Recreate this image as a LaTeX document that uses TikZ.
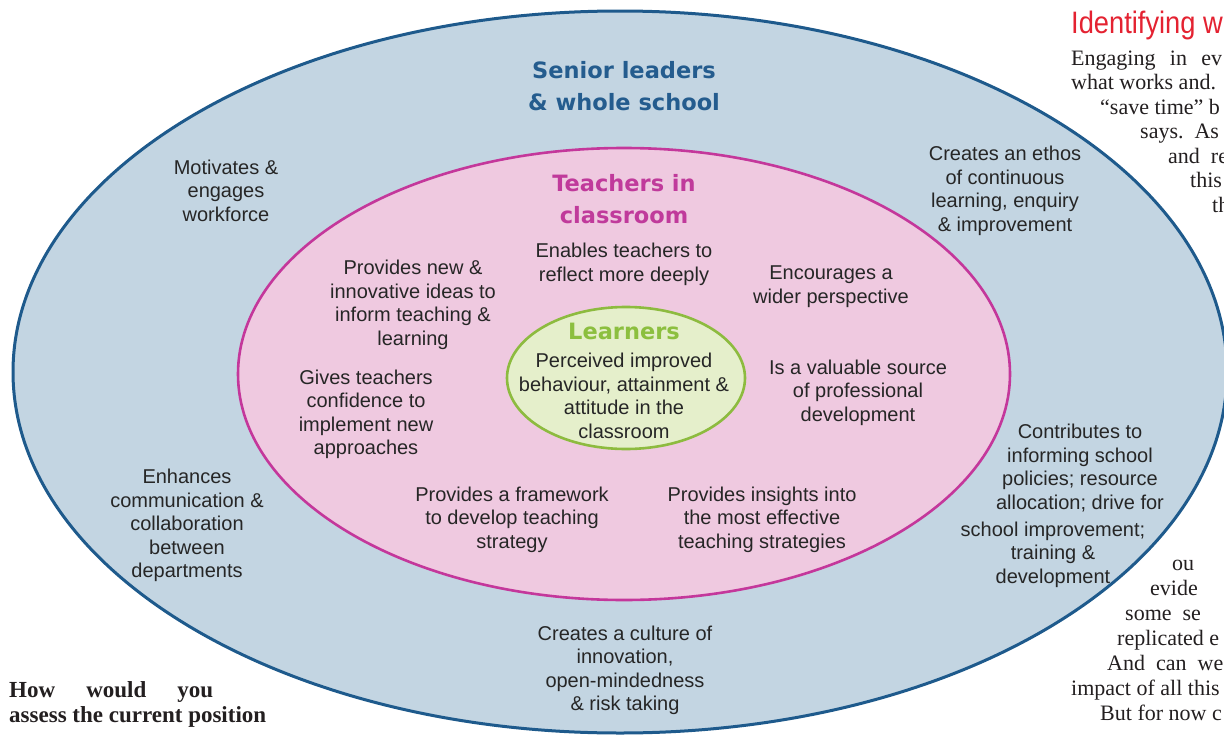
\documentclass[tikz,border=0pt]{standalone}
\usepackage{fontspec}
\setmainfont{Liberation Sans}
\newfontfamily\ringfont{DejaVu Sans}
\newfontfamily\columnfont{Liberation Serif}

\definecolor{schoolfill}{HTML}{C3D5E2}
\definecolor{schoolline}{HTML}{1E5A8C}
\definecolor{schooltitle}{HTML}{245C8E}
\definecolor{classfill}{HTML}{EFC9E0}
\definecolor{classline}{HTML}{C4379B}
\definecolor{classtitle}{HTML}{C03A9B}
\definecolor{learnfill}{HTML}{E5EFCB}
\definecolor{learnline}{HTML}{8DBB3F}
\definecolor{learntitle}{HTML}{8CBF3F}
\definecolor{bodyink}{HTML}{262626}
\definecolor{pageink}{HTML}{231F20}
\definecolor{headred}{HTML}{E42231}

\tikzset{
  body/.style={align=center, inner sep=0pt, text=bodyink,
    font=\fontsize{20}{23.5}\selectfont},
  ringtitle/.style={align=center, inner sep=0pt,
    font=\ringfont\bfseries\fontsize{22.5}{32}\selectfont},
  column/.style={anchor=base west, inner sep=0pt, text=pageink,
    font=\columnfont\fontsize{22}{24.5}\selectfont},
  pullquote/.style={anchor=base west, inner sep=0pt, text=pageink,
    font=\columnfont\bfseries\fontsize{23}{26}\selectfont},
}

\begin{document}
\begin{tikzpicture}[x=1pt, y=-1pt]
  \useasboundingbox (0,0) rectangle (1224,736);
  \fill[white] (0,0) rectangle (1224,736);
  \clip (0,0) rectangle (1224,736);

  % three nested rings
  \filldraw[fill=schoolfill, draw=schoolline, line width=3pt]
    (620,372) ellipse [x radius=607pt, y radius=361pt];
  \filldraw[fill=classfill, draw=classline, line width=2.6pt]
    (624,374) ellipse [x radius=386pt, y radius=226pt];
  \filldraw[fill=learnfill, draw=learnline, line width=2.6pt]
    (626,378) ellipse [x radius=119pt, y radius=71pt];

  % ring titles
  \node[ringtitle, text=schooltitle] (senior) at (624,86)
    {Senior leaders\\\& whole school};
  \node[ringtitle, text=classtitle] (teachers) at (624,199)
    {Teachers in\\classroom};
  \node[ringtitle, text=learntitle] (learners) at (624,331) {Learners};

  % whole-school ring
  \node[body] (motivates) at (226,190.5) {Motivates \&\\engages\\workforce};
  \node[body] (ethos) at (1005,191)
    {Creates an ethos\\of continuous\\learning, enquiry\\\& improvement};
  \node[body] (enhances) at (187,525.5)
    {Enhances\\communication \&\\collaboration\\between\\departments};
  \node[body] (contributes) at (1080,468)
    {Contributes to\\informing school\\policies; resource\\allocation; drive for};
  \node[body] (schoolimp) at (1053,554.5)
    {school improvement;\\training \&\\development};
  \node[body] (culture) at (625,670.5)
    {Creates a culture of\\innovation,\\open-mindedness\\\& risk taking};

  % classroom ring
  \node[body] (enables) at (624,264.5) {Enables teachers to\\reflect more deeply};
  \node[body] (newideas) at (413,305)
    {Provides new \&\\innovative ideas to\\inform teaching \&\\learning};
  \node[body] (wider) at (831,286.5) {Encourages a\\wider perspective};
  \node[body] (confidence) at (366,414.5)
    {Gives teachers\\confidence to\\implement new\\approaches};
  \node[body] (valuable) at (858,392.5)
    {Is a valuable source\\of professional\\development};
  \node[body] (framework) at (512,519.5)
    {Provides a framework\\to develop teaching\\strategy};
  \node[body] (insights) at (762,519.5)
    {Provides insights into\\the most effective\\teaching strategies};

  % learners ring
  \node[body] (perceived) at (624,396)
    {Perceived improved\\behaviour, attainment \&\\attitude in the\\classroom};

  % surrounding page column
  \node[anchor=base west, inner sep=0pt, text=headred,
    font=\fontsize{31}{32}\selectfont] (head) at (1071,33)
    {\scalebox{0.88}[1]{Identifying w}};
  \node[column] (l1) at (1071,65) {\makebox[151pt][s]{Engaging in ev}};
  \node[column] (l2) at (1071,89.5) {what works and.};
  \node[column] (l3) at (1100,114) {“save time” b};
  \node[column] (l4) at (1140,138.5) {says.\ \ As};
  \node[column] (l5) at (1168,163) {and\ \ re};
  \node[column] (l6) at (1190,187.5) {this};
  \node[column] (l7) at (1212,212) {th};

  \node[column] (m1) at (1172,570) {ou};
  \node[column] (m2) at (1150,595) {evide};
  \node[column] (m3) at (1125,620) {some\ \ se};
  \node[column] (m4) at (1117,645) {replicated e};
  \node[column] (m5) at (1107,670) {And\ \ can\ \ we};
  \node[column] (m6) at (1071,695) {impact of all this};
  \node[column] (m7) at (1100,720) {But for now c};

  \node[pullquote] (q1) at (9,697) {\makebox[204pt][s]{How would you}};
  \node[pullquote] (q2) at (9,722) {assess the current position};
\end{tikzpicture}
\end{document}
